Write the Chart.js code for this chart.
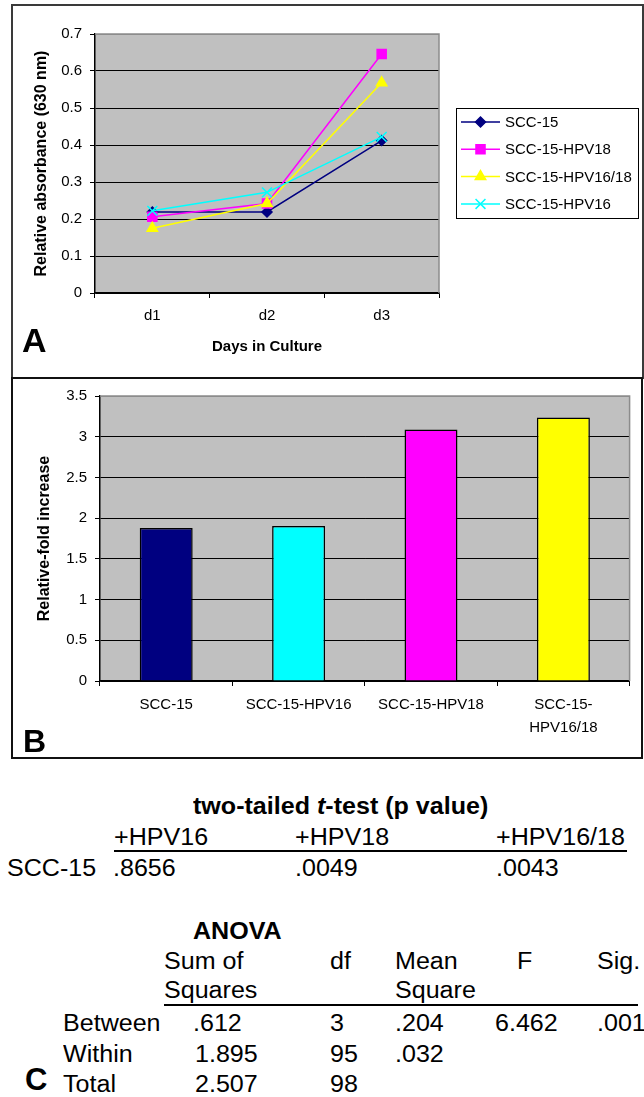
<!DOCTYPE html>
<html lang="en">
<head>
<meta charset="UTF-8">
<title>SCC-15 growth</title>
<script src="https://cdn.jsdelivr.net/npm/chart.js"></script>
<style>
  body { margin: 0; background: #fff; font-family: 'Liberation Sans', Arial, sans-serif; color: #000; }
  .page { position: relative; width: 644px; height: 1097px; overflow: hidden; }
  .box { position: absolute; box-sizing: border-box; border: 2px solid #3a3a3a; }
  #boxA { left: 11px; top: 4px; width: 633px; height: 375px; }
  #boxB { left: 11px; top: 377px; width: 632px; height: 382px; border-color: #111; }
  #chartA { position: absolute; left: 13px; top: 6px; }
  #chartB { position: absolute; left: 13px; top: 379px; }
  .t { position: absolute; font-size: 23px; line-height: 1; white-space: nowrap; transform: scaleX(1.09); transform-origin: 0 0; }
  .b { font-weight: bold; }
  .rule { position: absolute; height: 2px; background: #000; }
  .letter { position: absolute; font-weight: bold; font-size: 31px; line-height: 1; }
</style>
</head>
<body>
<div class="page">
  <div class="box" id="boxA"></div>
  <div class="box" id="boxB"></div>
  <canvas id="chartA" width="629" height="371"></canvas>
  <canvas id="chartB" width="628" height="378"></canvas>

  <!-- panel C -->
  <div class="t b" style="left:193px; top:795px;">two-tailed <i>t</i>-test (p value)</div>
  <div class="t" style="left:114px; top:826px;">+HPV16</div>
  <div class="t" style="left:295px; top:826px;">+HPV18</div>
  <div class="t" style="left:496px; top:826px;">+HPV16/18</div>
  <div class="rule" style="left:114px; top:850px; width:513px;"></div>
  <div class="t" style="left:7px; top:857px;">SCC-15</div>
  <div class="t" style="left:113px; top:857px;">.8656</div>
  <div class="t" style="left:295px; top:857px;">.0049</div>
  <div class="t" style="left:496px; top:857px;">.0043</div>

  <div class="t b" style="left:193px; top:920px;">ANOVA</div>
  <div class="t" style="left:164px; top:950px;">Sum of</div>
  <div class="t" style="left:330px; top:950px;">df</div>
  <div class="t" style="left:395px; top:950px;">Mean</div>
  <div class="t" style="left:517px; top:950px;">F</div>
  <div class="t" style="left:597px; top:950px;">Sig.</div>
  <div class="t" style="left:164px; top:979px;">Squares</div>
  <div class="t" style="left:395px; top:979px;">Square</div>
  <div class="rule" style="left:164px; top:1004px; width:474px;"></div>
  <div class="t" style="left:63px; top:1012px;">Between</div>
  <div class="t" style="left:193px; top:1012px;">.612</div>
  <div class="t" style="left:330px; top:1012px;">3</div>
  <div class="t" style="left:395px; top:1012px;">.204</div>
  <div class="t" style="left:495px; top:1012px;">6.462</div>
  <div class="t" style="left:597px; top:1012px;">.001</div>
  <div class="t" style="left:63px; top:1043px;">Within</div>
  <div class="t" style="left:195px; top:1043px;">1.895</div>
  <div class="t" style="left:330px; top:1043px;">95</div>
  <div class="t" style="left:395px; top:1043px;">.032</div>
  <div class="t" style="left:63px; top:1073px;">Total</div>
  <div class="t" style="left:195px; top:1073px;">2.507</div>
  <div class="t" style="left:330px; top:1073px;">98</div>
  <div class="letter" style="left:25px; top:1064px;">C</div>
</div>

<script>
  // ---- data, panel A (absorbance by day) ----
  const days = ['d1', 'd2', 'd3'];
  const seriesNames = ['SCC-15', 'SCC-15-HPV18', 'SCC-15-HPV16/18', 'SCC-15-HPV16'];
  const scc15 = [0.219, 0.219, 0.412];
  const hpv18 = [0.206, 0.242, 0.646];
  const hpv1618 = [0.175, 0.242, 0.568];
  const hpv16 = [0.222, 0.272, 0.422];
  const yTicksA = ['0', '0.1', '0.2', '0.3', '0.4', '0.5', '0.6', '0.7'];

  // ---- data, panel B (fold increase) ----
  const cellLines = ['SCC-15', 'SCC-15-HPV16', 'SCC-15-HPV18', ['SCC-15-', 'HPV16/18']];
  const foldIncrease = [1.88, 1.905, 3.09, 3.235];
  const yTicksB = ['0', '0.5', '1', '1.5', '2', '2.5', '3', '3.5'];

  const seriesColors = ['#000080', '#ff00ff', '#ffff00', '#00ffff'];
  const seriesMarkers = ['rectRot', 'rect', 'triangle', 'crossRot'];
  const markerRadius = [5, 6.4, 6, 7];
  const barColors = ['#000080', '#00ffff', '#ff00ff', '#ffff00'];

  Chart.defaults.font.family = "'Liberation Sans', Arial, sans-serif";
  Chart.defaults.color = '#000';

  function drawMarker(ctx, style, r, x, y, color) {
    ctx.save();
    ctx.fillStyle = color;
    ctx.strokeStyle = color;
    ctx.lineWidth = 1.5;
    if (Chart.helpers && Chart.helpers.drawPoint) {
      Chart.helpers.drawPoint(ctx, { pointStyle: style, radius: r, borderWidth: 1.5, rotation: 0 }, x, y);
    } else {
      ctx.beginPath();
      ctx.arc(x, y, r / 1.5, 0, Math.PI * 2);
      ctx.fill();
    }
    ctx.restore();
  }

  // grey plot area with a grey frame on top and right
  const plotBg = {
    id: 'plotBg',
    beforeDraw(chart) {
      const { ctx, chartArea: a } = chart;
      ctx.save();
      ctx.fillStyle = '#c0c0c0';
      ctx.fillRect(a.left, a.top, a.right - a.left, a.bottom - a.top);
      ctx.restore();
    },
    beforeDatasetsDraw(chart) {
      const { ctx, chartArea: a } = chart;
      ctx.save();
      ctx.strokeStyle = '#8c8c8c';
      ctx.lineWidth = 1.5;
      ctx.beginPath();
      ctx.moveTo(a.left, a.top);
      ctx.lineTo(a.right, a.top);
      ctx.lineTo(a.right, a.bottom);
      ctx.stroke();
      ctx.restore();
    }
  };

  const panelLetter = {
    id: 'panelLetter',
    afterDraw(chart, args, opts) {
      const ctx = chart.ctx;
      ctx.save();
      ctx.font = 'bold ' + opts.size + "px 'Liberation Sans', Arial, sans-serif";
      ctx.fillStyle = '#000';
      ctx.textBaseline = 'alphabetic';
      ctx.fillText(opts.text, opts.x, opts.y);
      ctx.restore();
    }
  };

  // boxed legend with line + marker, like the spreadsheet one
  const boxLegend = {
    id: 'boxLegend',
    afterDraw(chart, args, opts) {
      const ctx = chart.ctx;
      ctx.save();
      ctx.strokeStyle = '#000';
      ctx.lineWidth = 1;
      ctx.strokeRect(opts.x + 0.5, opts.y + 0.5, opts.w, opts.h);
      ctx.font = "15px 'Liberation Sans', Arial, sans-serif";
      ctx.textBaseline = 'middle';
      chart.data.datasets.forEach((ds, i) => {
        const cy = opts.y + opts.first + i * opts.step;
        ctx.strokeStyle = ds.borderColor;
        ctx.lineWidth = 1.5;
        ctx.beginPath();
        ctx.moveTo(opts.x + 5, cy);
        ctx.lineTo(opts.x + 44, cy);
        ctx.stroke();
        drawMarker(ctx, ds.pointStyle, ds.pointRadius, opts.x + 24.5, cy, ds.borderColor);
        ctx.fillStyle = '#000';
        ctx.fillText(ds.label, opts.x + 49, cy + 1);
      });
      ctx.restore();
    }
  };

  const seriesData = [scc15, hpv18, hpv1618, hpv16];

  new Chart(document.getElementById('chartA'), {
    type: 'line',
    data: {
      labels: days,
      datasets: seriesNames.map((name, i) => ({
        label: name,
        data: seriesData[i],
        borderColor: seriesColors[i],
        backgroundColor: seriesColors[i],
        pointBackgroundColor: seriesColors[i],
        pointBorderColor: seriesColors[i],
        pointStyle: seriesMarkers[i],
        pointRadius: markerRadius[i],
        pointBorderWidth: 1.5,
        borderWidth: 1.5,
        tension: 0,
        fill: false,
        order: seriesNames.length - i
      }))
    },
    options: {
      responsive: false,
      animation: false,
      devicePixelRatio: 1,
      layout: { padding: { left: 0, top: 28, right: 203, bottom: 0 } },
      plugins: {
        legend: { display: false },
        tooltip: { enabled: false },
        panelLetter: { text: 'A', x: 9, y: 346, size: 34 },
        boxLegend: { x: 443, y: 102, w: 182, h: 110, first: 14, step: 27.3 }
      },
      scales: {
        x: {
          offset: true,
          afterFit: (s) => { s.height = 84; },
          grid: { display: true, drawOnChartArea: false, drawTicks: true, tickLength: 5, offset: true, color: '#000', tickColor: '#000' },
          border: { display: true, color: '#000', width: 1.5 },
          ticks: { font: { size: 15 }, padding: 9, maxRotation: 0 },
          title: { display: true, text: 'Days in Culture', font: { size: 15, weight: 'bold' }, padding: { top: 0, bottom: 21 } }
        },
        y: {
          min: 0, max: 0.7,
          afterFit: (s) => { s.width = 82; },
          ticks: { stepSize: 0.1, font: { size: 15 }, padding: 8, callback: (v, i) => yTicksA[i] },
          grid: {
            color: (c) => (c.tick && c.tick.value >= 0.7 ? '#8c8c8c' : '#000'),
            tickColor: '#000', tickLength: 5, lineWidth: 1
          },
          border: { display: true, color: '#000', width: 1.5 },
          title: { display: true, text: 'Relative absorbance (630 nm)', font: { size: 16, weight: 'bold' }, padding: { top: 19, bottom: 0 } }
        }
      }
    },
    plugins: [plotBg, panelLetter, boxLegend]
  });

  new Chart(document.getElementById('chartB'), {
    type: 'bar',
    data: {
      labels: cellLines,
      datasets: [{
        data: foldIncrease,
        backgroundColor: barColors,
        borderColor: '#000',
        borderWidth: 1.5,
        barPercentage: 0.4,
        categoryPercentage: 1.0
      }]
    },
    options: {
      responsive: false,
      animation: false,
      devicePixelRatio: 1,
      layout: { padding: { left: 0, top: 12, right: 11.4, bottom: 0 } },
      plugins: {
        legend: { display: false },
        tooltip: { enabled: false },
        panelLetter: { text: 'B', x: 10, y: 373, size: 32 }
      },
      scales: {
        x: {
          afterFit: (s) => { s.height = 76; },
          grid: { display: true, drawOnChartArea: false, drawTicks: true, tickLength: 5, offset: true, color: '#000', tickColor: '#000' },
          border: { display: true, color: '#000', width: 1.5 },
          ticks: { font: { size: 15, lineHeight: 1.55 }, padding: 7, maxRotation: 0, autoSkip: false }
        },
        y: {
          min: 0, max: 3.5,
          afterFit: (s) => { s.width = 87; },
          ticks: { stepSize: 0.5, font: { size: 15 }, padding: 8, callback: (v, i) => yTicksB[i] },
          grid: {
            color: (c) => (c.tick && c.tick.value >= 3.5 ? '#8c8c8c' : '#000'),
            tickColor: '#000', tickLength: 5, lineWidth: 1
          },
          border: { display: true, color: '#000', width: 1.5 },
          title: { display: true, text: 'Relative-fold increase', font: { size: 16, weight: 'bold' }, padding: { top: 22, bottom: 0 } }
        }
      }
    },
    plugins: [plotBg, panelLetter]
  });
</script>
</body>
</html>
